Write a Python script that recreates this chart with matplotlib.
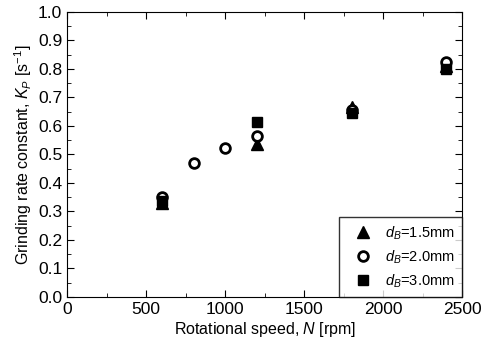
import matplotlib
matplotlib.use("Agg")
import matplotlib.pyplot as plt
from matplotlib.ticker import MultipleLocator

plt.rcParams['font.family'] = ['Liberation Sans', 'DejaVu Sans']
plt.rcParams['mathtext.fontset'] = 'custom'
plt.rcParams['mathtext.rm'] = 'Liberation Sans'
plt.rcParams['mathtext.it'] = 'Liberation Sans:italic'

# data
n_15 = [600, 1200, 1800, 2400]
k_15 = [0.33, 0.535, 0.665, 0.81]
n_20 = [600, 800, 1000, 1200, 1800, 2400]
k_20 = [0.35, 0.47, 0.524, 0.564, 0.655, 0.823]
n_30 = [600, 1200, 1800, 2400]
k_30 = [0.335, 0.615, 0.644, 0.80]

fig = plt.figure(figsize=(4.83, 3.51), dpi=100)
ax = fig.add_axes([0.139, 0.154, 0.818, 0.812])

ax.plot(n_15, k_15, '^', color='black', markersize=8, linestyle='none',
        label='$d_B$=1.5mm')
ax.plot(n_20, k_20, 'o', markerfacecolor='white', markeredgecolor='black',
        markeredgewidth=2, markersize=7, linestyle='none', label='$d_B$=2.0mm')
ax.plot(n_30, k_30, 's', color='black', markersize=7, linestyle='none',
        label='$d_B$=3.0mm')

ax.set_xlim(0, 2500)
ax.set_ylim(0, 1.0)
ax.xaxis.set_major_locator(MultipleLocator(500))
ax.xaxis.set_minor_locator(MultipleLocator(250))
ax.yaxis.set_major_locator(MultipleLocator(0.1))
ax.yaxis.set_minor_locator(MultipleLocator(0.05))
ax.yaxis.set_major_formatter(matplotlib.ticker.FormatStrFormatter('%.1f'))
ax.tick_params(which='both', direction='in', top=True, right=True, labelsize=12.5)
ax.tick_params(which='major', length=5)
ax.tick_params(which='minor', length=3)

ax.set_xlabel('Rotational speed, $N$ [rpm]', fontsize=11.5, labelpad=2)
ax.set_ylabel('Grinding rate constant, $K_P$ [s$^{-1}$]', fontsize=11.5, labelpad=3)

leg = ax.legend(loc='lower right', borderaxespad=0, fancybox=False,
                edgecolor='black', fontsize=10.5, handletextpad=0.3,
                handlelength=2.4, borderpad=0.5, labelspacing=0.45)
leg.get_frame().set_linewidth(1.0)

fig.savefig('out.png', dpi=100)
